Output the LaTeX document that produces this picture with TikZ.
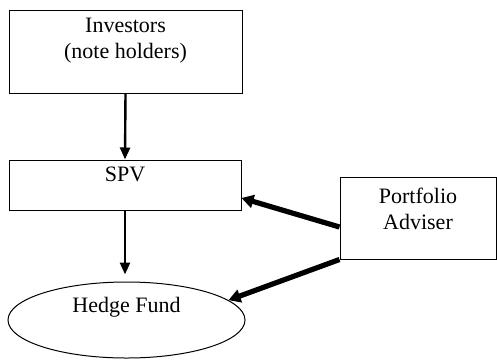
\documentclass[tikz,border=0pt]{standalone}
\usepackage{fontspec}
\setmainfont{Liberation Serif}
\usepackage{tikz}
\usetikzlibrary{arrows.meta, shapes.geometric, calc}

\begin{document}
\begin{tikzpicture}[x=0.5pt, y=-0.5pt, >=Triangle,
    font=\fontsize{11pt}{13pt}\selectfont,
    boite/.style={draw, line width=0.5pt, align=center, text height=7.3pt, inner xsep=2pt, inner ysep=0pt},
    fleche/.style={->, line width=1.2pt, arrows={-Triangle[length=6pt, width=5pt]}},
    grosse/.style={->, line width=2.6pt, arrows={-Triangle[length=6pt, width=6.5pt]}}]
  \useasboundingbox (0,0) rectangle (497,359);
  % Investisseurs
  \node[boite, minimum width=116.5pt, minimum height=41.5pt, text height=20.3pt, text depth=13.4pt] (inv) at (125.5,51.5) {Investors\\(note holders)};
  % SPV
  \node[boite, minimum width=116pt, minimum height=25pt, text depth=10.7pt] (spv) at (125,185) {SPV};
  % Conseiller
  \node[boite, minimum width=78pt, minimum height=41pt, text height=20.3pt, text depth=8.7pt] (pa) at (418,218) {Portfolio\\Adviser};
  % Fonds
  \node[draw, ellipse, line width=0.5pt, inner sep=0pt, text height=7.3pt, text depth=14.7pt,
        minimum width=118.5pt, minimum height=38pt] (hf) at (126.5,320) {Hedge Fund};
  % Fleches verticales
  \draw[fleche] (inv.south) -- (spv.north);
  \draw[fleche] (spv.south) -- ([yshift=3.5pt]spv.south |- hf.north);
  % Fleches du conseiller
  \draw[grosse] ([yshift=-4.5pt]pa.west) -- ([yshift=-6.5pt]spv.east);
  \draw[grosse] (pa.south west) -- (hf.11.5);
\end{tikzpicture}
\end{document}
